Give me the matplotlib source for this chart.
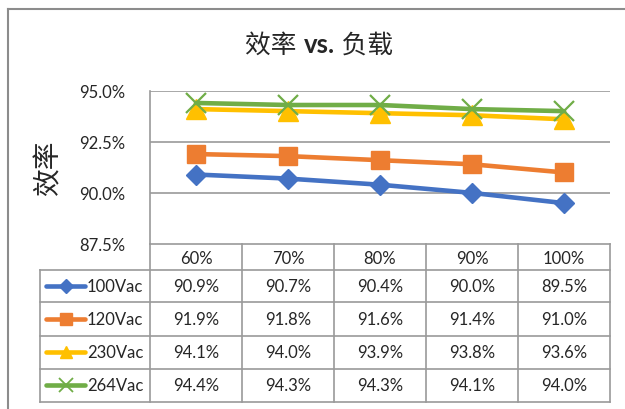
import matplotlib
matplotlib.use('Agg')
import matplotlib.pyplot as plt
from matplotlib.lines import Line2D

categories = ['60%', '70%', '80%', '90%', '100%']
series_names = ['100Vac', '120Vac', '230Vac', '264Vac']
v100 = [90.9, 90.7, 90.4, 90.0, 89.5]
v120 = [91.9, 91.8, 91.6, 91.4, 91.0]
v230 = [94.1, 94.0, 93.9, 93.8, 93.6]
v264 = [94.4, 94.3, 94.3, 94.1, 94.0]
y_ticks = [87.5, 90.0, 92.5, 95.0]
title_parts = ['效率 ', 'vs.', ' 负载']
ylabel = '效率'

series_values = [v100, v120, v230, v264]
colors = ['#4472C4', '#ED7D31', '#FFC000', '#70AD47']
markers = ['D', 's', '^', 'x']
msizes = [10, 13.5, 14, 15]
mews = [1, 1, 1, 1.6]

W, H = 625, 410
fig = plt.figure(figsize=(W / 100, H / 100), dpi=100)
fig.patch.set_facecolor('white')

def fx(x):
    return x / W

def fy(y):
    return 1 - y / H

LAT = ['Lato', 'Noto Sans CJK SC', 'DejaVu Sans']
CJK = ['Noto Sans CJK SC', 'DejaVu Sans']
TXT = '#262626'
GRID = '#9a9a9a'

# plot area
x0, x1, ytop, ybot = 150, 610, 91.7, 245
ax = fig.add_axes([fx(x0), fy(ybot), (x1 - x0) / W, (ybot - ytop) / H])
ax.set_xlim(0, len(categories))
ax.set_ylim(y_ticks[0], y_ticks[-1])
ax.patch.set_alpha(0)
for s in ['top', 'right']:
    ax.spines[s].set_visible(False)
for s in ['left', 'bottom']:
    ax.spines[s].set_color(GRID)
    ax.spines[s].set_linewidth(1.2)
ax.set_xticks([])
ax.set_yticks(y_ticks)
ax.set_yticklabels([f'{t:.1f}%' for t in y_ticks], family=LAT, fontsize=12, color=TXT)
ax.tick_params(axis='y', length=0, pad=18)
for t in y_ticks[1:]:
    ax.axhline(t, color=GRID, lw=1.2, zorder=1)

xs = [i + 0.5 for i in range(len(categories))]
for vals, c, m, ms, mew in zip(series_values, colors, markers, msizes, mews):
    ax.plot(xs, vals, color=c, lw=3.3, marker=m, markersize=ms,
            markerfacecolor=c, markeredgecolor=c, markeredgewidth=mew,
            solid_capstyle='round', zorder=3, clip_on=False)

# title (bold Latin part) and y label
renderer = fig.canvas.get_renderer()
weights = ['normal', 'bold', 'normal']
texts = []
for part, wgt in zip(title_parts, weights):
    t = fig.text(0, fy(45), part, family=LAT, fontsize=18.5, color=TXT,
                 ha='left', va='center', weight=wgt)
    texts.append(t)
widths = [t.get_window_extent(renderer).width for t in texts]
total = sum(widths)
start = 319 - total / 2
for t, w in zip(texts, widths):
    t.set_x(fx(start))
    start += w

fig.text(fx(48), fy(168), ylabel, family=CJK, fontsize=20, color=TXT,
         ha='center', va='center', rotation=90)

# outer border
fig.add_artist(Line2D([fx(8), fx(8)], [fy(10), fy(410)], color='#8c8c8c', lw=1.5))
fig.add_artist(Line2D([fx(8), fx(625)], [fy(10), fy(10)], color='#8c8c8c', lw=1.5))

# data table
col_edges = [x0 + i * (x1 - x0) / len(categories) for i in range(len(categories) + 1)]
row_edges = [270.7, 303.3, 336.7, 370.0, 402.7]
hdr_top = 245
leg_left = 40

for y in row_edges:
    fig.add_artist(Line2D([fx(leg_left), fx(x1)], [fy(y), fy(y)], color=GRID, lw=1.2))
fig.add_artist(Line2D([fx(leg_left), fx(leg_left)], [fy(row_edges[0]), fy(row_edges[-1])],
                      color=GRID, lw=1.2))
for x in col_edges:
    fig.add_artist(Line2D([fx(x), fx(x)], [fy(hdr_top), fy(row_edges[-1])], color=GRID, lw=1.2))

for i, cat in enumerate(categories):
    cx = (col_edges[i] + col_edges[i + 1]) / 2
    fig.text(fx(cx), fy((hdr_top + row_edges[0]) / 2 + 1), cat, family=LAT, fontsize=12,
             color=TXT, ha='center', va='center')

for r, (name, vals, c, m) in enumerate(zip(series_names, series_values, colors, markers)):
    cy = (row_edges[r] + row_edges[r + 1]) / 2
    for i, v in enumerate(vals):
        cx = (col_edges[i] + col_edges[i + 1]) / 2
        fig.text(fx(cx), fy(cy), f'{v:.1f}%', family=LAT, fontsize=12, color=TXT,
                 ha='center', va='center')
    fig.add_artist(Line2D([fx(46), fx(85)], [fy(cy), fy(cy)], color=c, lw=3.3,
                          solid_capstyle='round'))
    fig.add_artist(Line2D([fx(65.5)], [fy(cy)], color=c, marker=m,
                          markersize=[7, 9, 9, 10][r], markerfacecolor=c,
                          markeredgecolor=c, markeredgewidth=[1, 1, 1, 1.3][r]))
    fig.text(fx(87), fy(cy), name, family=LAT, fontsize=12, color=TXT,
             ha='left', va='center')

fig.savefig('out.png', dpi=100, facecolor='white')
